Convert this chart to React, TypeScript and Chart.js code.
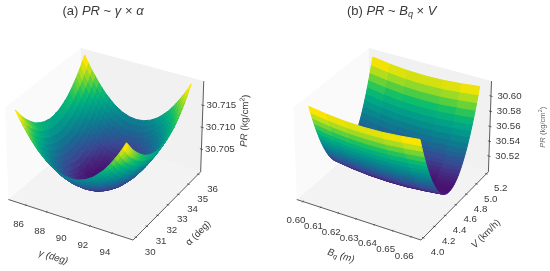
import React, { useEffect, useRef } from "react";
import { Chart, registerables } from "chart.js";
Chart.register(...registerables);

// Panel (a): PR = 30.7 + offset * 1e-4, rows by alpha (30 .. 33, mirrored to 36), columns by gamma
const gammaValues = [85,85.33,85.67,86,86.33,86.67,87,87.33,87.67,88,88.33,88.67,89,89.33,89.67,90,90.33,90.67,91,91.33,91.67,92,92.33,92.67,93,93.33,93.67,94,94.33,94.67,95];
const alphaValues = [30,30.2,30.4,30.6,30.8,31,31.2,31.4,31.6,31.8,32,32.2,32.4,32.6,32.8,33,33.2,33.4,33.6,33.8,34,34.2,34.4,34.6,34.8,35,35.2,35.4,35.6,35.8,36];
const prARowsLower = [
[197,182,168,156,144,133,123,115,107,100,95,90,87,84,83,82,83,84,87,90,95,100,107,115,123,133,144,156,168,182,197],
[187,172,158,146,134,123,113,105,97,90,85,80,77,74,73,72,73,74,77,80,85,90,97,105,113,123,134,146,158,172,187],
[177,162,148,136,124,113,103,95,87,80,75,70,67,64,63,62,63,64,67,70,75,80,87,95,103,113,124,136,148,162,177],
[168,153,139,127,115,104,94,86,78,71,66,61,58,55,54,53,54,55,58,61,66,71,78,86,94,104,115,127,139,153,168],
[160,145,131,119,107,96,86,78,70,63,58,53,50,47,46,45,46,47,50,53,58,63,70,78,86,96,107,119,131,145,160],
[153,138,124,112,100,89,79,71,63,56,51,46,43,40,39,38,39,40,43,46,51,56,63,71,79,89,100,112,124,138,153],
[146,131,117,105,93,82,72,64,56,49,44,39,36,33,32,31,32,33,36,39,44,49,56,64,72,82,93,105,117,131,146],
[140,125,111,99,87,76,66,58,50,43,38,33,30,27,26,25,26,27,30,33,38,43,50,58,66,76,87,99,111,125,140],
[134,119,105,93,81,70,60,52,44,37,32,27,24,21,20,19,20,21,24,27,32,37,44,52,60,70,81,93,105,119,134],
[130,115,101,89,77,66,56,48,40,33,28,23,20,17,16,15,16,17,20,23,28,33,40,48,56,66,77,89,101,115,130],
[126,111,97,85,73,62,52,44,36,29,24,19,16,13,12,11,12,13,16,19,24,29,36,44,52,62,73,85,97,111,126],
[123,108,94,82,70,59,49,41,33,26,21,16,13,10,9,8,9,10,13,16,21,26,33,41,49,59,70,82,94,108,123],
[120,105,91,79,67,56,46,38,30,23,18,13,10,7,6,5,6,7,10,13,18,23,30,38,46,56,67,79,91,105,120],
[119,104,90,78,66,55,45,37,29,22,17,12,9,6,5,4,5,6,9,12,17,22,29,37,45,55,66,78,90,104,119],
[117,102,88,76,64,53,43,35,27,20,15,10,7,4,3,2,3,4,7,10,15,20,27,35,43,53,64,76,88,102,117],
[117,102,88,76,64,53,43,35,27,20,15,10,7,4,3,2,3,4,7,10,15,20,27,35,43,53,64,76,88,102,117],
];
const prA = [...prARowsLower,...prARowsLower.slice(0,15).reverse()].map(r=>r.map(o=>30.7+o/1e4));

// Panel (b): PR = 30.5 + offset * 1e-4, rows by V, columns by Bq
const bqValues = [0.60,0.61,0.62,0.63,0.64,0.65,0.66];
const vValues = [4.1,4.125,4.15,4.175,4.2,4.225,4.25,4.275,4.3,4.325,4.35,4.375,4.4,4.425,4.45,4.475,4.5,4.525,4.55,4.575,4.6,4.625,4.65,4.675,4.7,4.725,4.75,4.775,4.8,4.825,4.85,4.875,4.9,4.925,4.95,4.975,5,5.025,5.05,5.075,5.1,5.125,5.15,5.175,5.2];
const prBRows = [
[1140,1107,1086,1080,1086,1107,1135],[1046,1013,992,986,992,1013,1041],[958,925,904,898,904,925,953],
[873,840,819,813,819,840,868],[793,760,739,733,739,760,788],[717,684,663,657,663,684,712],
[646,613,592,586,592,613,641],[578,545,524,518,524,545,573],[515,482,461,455,461,482,510],
[456,423,402,396,402,423,451],[403,370,349,343,349,370,398],[353,320,299,293,299,320,348],
[307,274,253,247,253,274,302],[265,232,211,205,211,232,260],[229,196,175,169,175,196,224],
[196,163,142,136,142,163,191],[167,134,113,107,113,134,162],[145,112,91,85,91,112,140],
[125,92,71,65,71,92,120],[110,77,56,50,56,77,105],[98,65,44,38,44,65,93],
[92,59,38,32,38,59,87],[90,57,36,30,36,57,85],[92,59,38,32,38,59,87],
[98,65,44,38,44,65,93],[110,77,56,50,56,77,105],[124,91,70,64,70,91,119],
[144,111,90,84,90,111,139],[166,133,112,106,112,133,161],[194,161,140,134,140,161,189],
[226,193,172,166,172,193,221],[262,229,208,202,208,229,257],[303,270,249,243,249,270,298],
[348,315,294,288,294,315,343],[397,364,343,337,343,364,392],[449,416,395,389,395,416,444],
[507,474,453,447,453,474,502],[569,536,515,509,515,536,564],[635,602,581,575,581,602,630],
[705,672,651,645,651,672,700],[779,746,725,719,725,746,774],[858,825,804,798,804,825,853],
[941,908,887,881,887,908,936],[1028,995,974,968,974,995,1023],[1120,1087,1066,1060,1066,1087,1115],
];
const prB = prBRows.map(r=>r.map(o=>30.5+o/1e4));

const gammaTicks=[86,88,90,92,94];
const alphaTicks=[30,31,32,33,34,35,36];
const prATicks=[30.705,30.71,30.715];
const bqTicks=[0.60,0.61,0.62,0.63,0.64,0.65,0.66];
const vTicks=[4.0,4.2,4.4,4.6,4.8,5.0,5.2];
const prBTicks=[30.52,30.54,30.56,30.58,30.60];

const PALETTE = ["#47066b","#47247c","#3a4692","#225f93","#0f7890","#04908c","#00a884","#0fbe6a","#5fd03a","#b4de1c","#fde400"];
const rgb=(h:string)=>[1,3,5].map(i=>parseInt(h.slice(i,i+2),16));
function colormap(t:number){const s=Math.min(0.9999,Math.max(0,t))*10;const i=Math.floor(s);const f=s-i;const a=rgb(PALETTE[i]),b=rgb(PALETTE[i+1]);return `rgb(${a.map((v,k)=>Math.round(v+(b[k]-v)*f)).join(",")})`;}

type Seg={t:string;i?:boolean;sub?:boolean;sup?:boolean};
const PANELS=[{
  width:275, xr:[-1.481,2.365], yr:[-1.779,1.913],
  lim:{x:[84.35,95.9],y:[29.75,36.25],z:[30.6997,30.7204]},
  xs:gammaValues, ys:alphaValues, zz:prA,
  xt:gammaTicks, yt:alphaTicks, zt:prATicks,
  xf:(v:number)=>String(v), yf:(v:number)=>String(v), zf:(v:number)=>v.toFixed(3),
  title:[{t:"(a) "},{t:"PR",i:true},{t:" ~ "},{t:"γ",i:true},{t:" × "},{t:"α",i:true}] as Seg[], titlePos:[103,11.7],
  xl:{s:[{t:"γ",i:true},{t:" (deg)",i:true}] as Seg[],p:[53.3,257.3],r:17},
  yl:{s:[{t:"α (deg)"}] as Seg[],p:[198.3,233.3],r:-45},
  zl:{s:[{t:"PR",i:true},{t:" (kg/cm"},{t:"2",sup:true},{t:")"}] as Seg[],p:[245,120.7],r:-88,size:9.7,color:"#3a3a3a"},
},{
  width:275, xr:[-1.668,2.189], yr:[-1.779,1.913],
  lim:{x:[0.5964,0.6652],y:[3.96,5.24],z:[30.4984,30.6195]},
  xs:bqValues, ys:vValues, zz:prB,
  xt:bqTicks, yt:vTicks, zt:prBTicks,
  xf:(v:number)=>v.toFixed(2), yf:(v:number)=>v.toFixed(1), zf:(v:number)=>v.toFixed(2),
  title:[{t:"(b) "},{t:"PR",i:true},{t:" ~ "},{t:"B",i:true},{t:"q",i:true,sub:true},{t:" × "},{t:"V",i:true}] as Seg[], titlePos:[116.7,11.7],
  xl:{s:[{t:"B",i:true},{t:"q",i:true,sub:true},{t:" (m)",i:true}] as Seg[],p:[66,256],r:17},
  yl:{s:[{t:"V",i:true},{t:" (km/h)"}] as Seg[],p:[211,234],r:-45},
  zl:{s:[{t:"PR",i:true},{t:" (kg/cm"},{t:"2",sup:true},{t:")"}] as Seg[],p:[267.7,127.3],r:-90,size:7.6,color:"#666666"},
}];

const EL=30*Math.PI/180, AZ=-60*Math.PI/180, DIST=22, C=0.72;
const R=[-Math.sin(AZ),Math.cos(AZ),0];
const U=[-Math.sin(EL)*Math.cos(AZ),-Math.sin(EL)*Math.sin(AZ),Math.cos(EL)];
const F=[Math.cos(EL)*Math.cos(AZ),Math.cos(EL)*Math.sin(AZ),Math.sin(EL)];
const dot=(a:number[],b:number[])=>a[0]*b[0]+a[1]*b[1]+a[2]*b[2];
function proj(P:number[]){const k=DIST/(DIST-dot(P,F));return {x:dot(P,R)*k,y:dot(P,U)*k};}

const TXT="#3a3a3a";
const FONT='"Liberation Sans", Arial, sans-serif';
function drawRich(ctx:any,segs:Seg[],x:number,y:number,rot:number,size:number,color:string){
  ctx.save();ctx.translate(x,y);ctx.rotate(rot*Math.PI/180);ctx.fillStyle=color;ctx.textBaseline="middle";ctx.textAlign="left";
  const font=(s:Seg)=>`${s.i?"italic ":""}${(s.sub||s.sup)?size*0.7:size}px ${FONT}`;
  let w=0;for(const s of segs){ctx.font=font(s);w+=ctx.measureText(s.t).width;}
  let cx=-w/2;for(const s of segs){ctx.font=font(s);ctx.fillText(s.t,cx,s.sub?size*0.25:s.sup?-size*0.35:0);cx+=ctx.measureText(s.t).width;}
  ctx.restore();
}

function build(p:any){
  const nx=(v:number)=>-1+2*(v-p.lim.x[0])/(p.lim.x[1]-p.lim.x[0]);
  const ny=(v:number)=>-1+2*(v-p.lim.y[0])/(p.lim.y[1]-p.lim.y[0]);
  const nz=(v:number)=>C*(-1+2*(v-p.lim.z[0])/(p.lim.z[1]-p.lim.z[0]));
  const ds:any[]=[];
  const poly=(pts:number[][],col:string,bw=1)=>ds.push({data:pts.map(proj),showLine:true,fill:"shape",backgroundColor:col,borderColor:col,borderWidth:bw,pointRadius:0,tension:0});
  const line=(pts:number[][],col:string,w:number)=>ds.push({data:pts.map(proj),showLine:true,fill:false,borderColor:col,borderWidth:w,pointRadius:0,tension:0});
  poly([[-1,-1,-C],[1,-1,-C],[1,1,-C],[-1,1,-C],[-1,-1,-C]],"#f3f3f3",0);
  poly([[-1,-1,-C],[-1,1,-C],[-1,1,C],[-1,-1,C],[-1,-1,-C]],"#fafafa",0);
  poly([[-1,1,-C],[1,1,-C],[1,1,C],[-1,1,C],[-1,1,-C]],"#f1f1f1",0);
  const AX="#333333";
  line([[-1,-1,-C],[1,-1,-C]],AX,0.8);
  line([[1,-1,-C],[1,1,-C]],AX,0.8);
  line([[1,1,-C],[1,1,C]],AX,0.8);
  for(const v of p.xt) line([[nx(v),-1.02,-C],[nx(v),-0.98,-C]],AX,0.7);
  for(const v of p.yt) line([[1.02,ny(v),-C],[0.98,ny(v),-C]],AX,0.7);
  for(const v of p.zt) line([[1.025,1,nz(v)],[0.975,1,nz(v)]],AX,0.7);
  const quads:any[]=[];
  for(let j=0;j<p.ys.length-1;j++)for(let i=0;i<p.xs.length-1;i++){
    const c=[[i,j],[i+1,j],[i+1,j+1],[i,j+1]];
    const pts=c.map(([a,b])=>[nx(p.xs[a]),ny(p.ys[b]),nz(p.zz[b][a])]);
    const mean=c.reduce((s,[a,b])=>s+p.zz[b][a],0)/4;
    const m=[0,1,2].map(k=>pts.reduce((s,q)=>s+q[k],0)/4);
    quads.push({pts,mean,d:dot(m,F)});
  }
  const means=quads.map(q=>q.mean);const zmin=Math.min(...means),zmax=Math.max(...means);
  quads.sort((a,b)=>a.d-b.d);
  for(const q of quads) poly([...q.pts,q.pts[0]],colormap((q.mean-zmin)/(zmax-zmin)),1);
  ds.forEach((d,i)=>{d.order=ds.length-i;});
  return {ds,nx,ny,nz};
}

function Panel({p}:{p:any}){
  const ref=useRef<HTMLCanvasElement>(null);
  useEffect(()=>{
    const {ds,nx,ny,nz}=build(p);
    const text={id:"text3d",afterDraw(chart:any){
      const ctx=chart.ctx,X=chart.scales.x,Y=chart.scales.y;
      const at=(P:number[])=>{const q=proj(P);return [X.getPixelForValue(q.x),Y.getPixelForValue(q.y)];};
      const S=9.7;
      for(const v of p.xt){const [a,b]=at([nx(v),-1,-C]);drawRich(ctx,[{t:p.xf(v)}],a-7,b+19,0,S,TXT);}
      for(const v of p.yt){const [a,b]=at([1,ny(v),-C]);drawRich(ctx,[{t:p.yf(v)}],a+14.3,b+15,0,S,TXT);}
      for(const v of p.zt){const [a,b]=at([1,1,nz(v)]);drawRich(ctx,[{t:p.zf(v)}],a+18.5,b,0,S,TXT);}
      drawRich(ctx,p.title,p.titlePos[0],p.titlePos[1],0,13,TXT);
      drawRich(ctx,p.xl.s,p.xl.p[0],p.xl.p[1],p.xl.r,S,TXT);
      drawRich(ctx,p.yl.s,p.yl.p[0],p.yl.p[1],p.yl.r,S,TXT);
      drawRich(ctx,p.zl.s,p.zl.p[0],p.zl.p[1],p.zl.r,p.zl.size,p.zl.color);
    }};
    const chart=new Chart(ref.current as any,{type:"scatter",data:{datasets:ds},plugins:[text],options:{
      responsive:false,animation:false,maintainAspectRatio:false,layout:{padding:0},
      plugins:{legend:{display:false},tooltip:{enabled:false},title:{display:false}},
      scales:{x:{type:"linear",display:false,min:p.xr[0],max:p.xr[1]},y:{type:"linear",display:false,min:p.yr[0],max:p.yr[1]}},
    } as any});
    return ()=>chart.destroy();
  },[p]);
  return <canvas ref={ref} width={p.width} height={271} style={{display:"block",width:p.width,height:271}}/>;
}

export default function App(){
  return <div style={{position:"fixed",left:0,top:0,width:550,height:271,display:"flex",background:"#fff",overflow:"hidden"}}>
    {PANELS.map((p,i)=><Panel key={i} p={p}/>)}
  </div>;
}
